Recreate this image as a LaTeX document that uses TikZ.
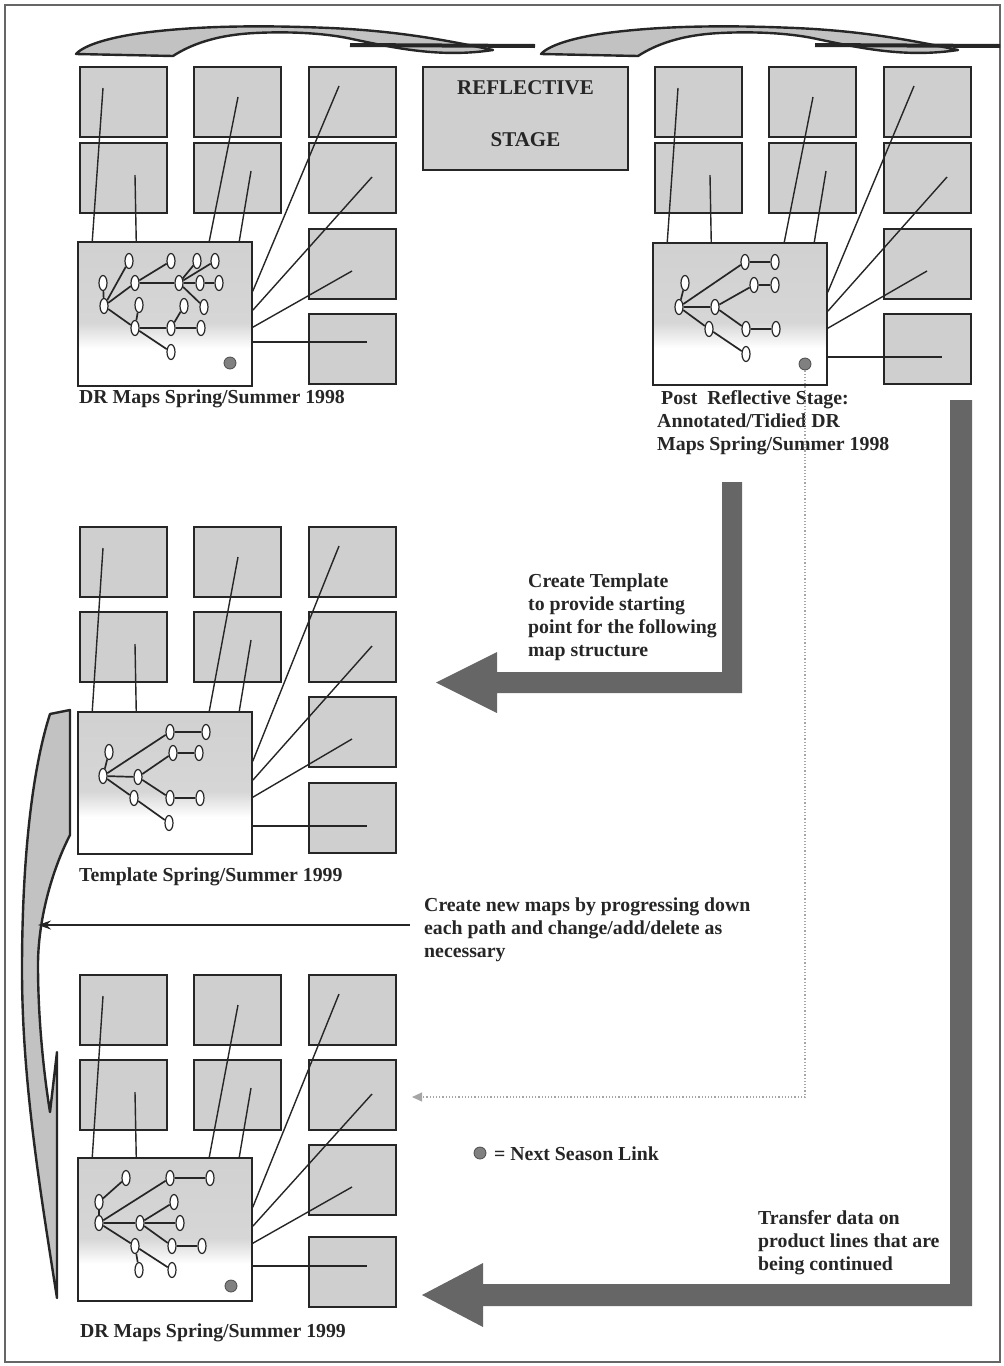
\documentclass[tikz,border=0pt]{standalone}
\usepackage{fontspec}
\setmainfont{Liberation Serif}
\usetikzlibrary{shapes.geometric,arrows.meta}

\pgfdeclareverticalshading{mapfade}{100bp}{color(0bp)=(white); color(38bp)=(white); color(47bp)=(gray!32); color(100bp)=(gray!40)}

\tikzset{
  mapcell/.style={draw=black!85, line width=1.5, fill=gray!38, minimum width=87, minimum height=70, inner sep=0},
  mapbig/.style={draw=black!85, line width=1.5, shade, shading=mapfade, minimum width=174, inner sep=0},
  maplink/.style={line width=1.4, black!85},
  oval/.style={ellipse, draw=black!85, line width=1.2, fill=white, minimum width=8, minimum height=15, inner sep=0},
  branch/.style={line width=1.7, black!85},
  seasondot/.style={circle, draw=black!70, line width=0.8, fill=black!50, minimum size=12, inner sep=0},
  lbl/.style={font=\bfseries\fontsize{19.8}{23}\selectfont, text=black!85, inner sep=0, align=left, anchor=west},
  blockarrow/.style={fill=black!60},
  curvearrow/.style={fill=gray!48, draw=black!85, line width=2.4, line join=round},
  nextlink/.style={gray!70, dotted, line width=1.2, -{Triangle[length=10,width=9]}},
}

% one group of season maps: name, left x, four row tops, map top, map height, y of lowest link
\newcommand{\drgroup}[9]{%
  \foreach \k/\ry in {1/#3,2/#4} {
    \node[mapcell] (#1a\k) at (#2+43.5,\ry+35) {};
    \node[mapcell] (#1b\k) at (#2+157.5,\ry+35) {};
  }
  \foreach \k/\ry in {1/#3,2/#4,3/#5,4/#6}
    \node[mapcell] (#1c\k) at (#2+272.5,\ry+35) {};
  \node[mapbig, minimum height=#8] (#1big) at (#2+85,#7+#8/2) {};
  % links from the boxes into the map
  \coordinate (#1p1) at (#2+23,#3+21);
  \coordinate (#1p2) at (#2+55,#4+32);
  \coordinate (#1p3) at (#2+158,#3+30);
  \coordinate (#1p4) at (#2+171,#4+28);
  \coordinate (#1p5) at (#2+259,#3+19);
  \coordinate (#1p6) at (#2+292,#4+34);
  \coordinate (#1p7) at (#2+272,#5+42);
  \coordinate (#1p8) at (#2+287,#9);
  \draw[maplink] (#1p1) -- ([xshift=15]#1big.north west);
  \draw[maplink] (#1p2) -- ([xshift=59]#1big.north west);
  \draw[maplink] (#1p3) -- ([xshift=132]#1big.north west);
  \draw[maplink] (#1p4) -- ([xshift=162]#1big.north west);
  \draw[maplink] (#1p5) -- ([yshift=-50]#1big.north east);
  \draw[maplink] (#1p6) -- ([yshift=-69]#1big.north east);
  \draw[maplink] (#1p7) -- ([yshift=-86]#1big.north east);
  \draw[maplink] (#1p8 -| #1big.east) -- (#1p8);
}

\begin{document}
\begin{tikzpicture}[x=1pt, y=-1pt]
  \useasboundingbox (0,0) rectangle (1004,1366);
  \draw[black!60, line width=1.2] (5,5) rectangle (1000,1362);

  % curved arrows along the top
  \foreach \dx in {0,465} {
    \begin{scope}[xshift=\dx]
      \draw[curvearrow] (76,54) -- (173,56) .. controls (190,45) and (215,35) .. (255,33)
        .. controls (295,31) and (330,34) .. (352,39) .. controls (395,48) and (440,58) .. (493,50)
        .. controls (450,41) and (400,31) .. (330,28) .. controls (260,25) and (200,26) .. (150,32)
        .. controls (115,36) and (85,44) .. (76,54) -- cycle;
      \draw[line width=4, black!85] (350,45) -- (535,46);
    \end{scope}
  }

  % curved arrow on the left
  \draw[curvearrow] (50,714) -- (70,710) -- (70,835) .. controls (52,870) and (38,920) .. (38,965)
    .. controls (38,1020) and (44,1075) .. (50,1112) -- (57,1052) -- (57,1298)
    .. controls (40,1190) and (22,1080) .. (22,970) .. controls (22,860) and (32,770) .. (50,714) -- cycle;

  % map groups
  \drgroup{g1}{80}{67}{143}{229}{314}{242}{144}{342}
  \drgroup{g2}{655}{67}{143}{229}{314}{243}{142}{357}
  \drgroup{g3}{80}{527}{612}{697}{783}{712}{142}{826}
  \drgroup{g4}{80}{975}{1060}{1145}{1237}{1158}{143}{1266}

  % trees
  \foreach \n/\x/\y in {a/103/283, r/104/306, b/129/261, c/135/283, d/171/261, e/179/283,
      f/197/261, g/215/261, h/200/283, i/219/283, j/204/307, k/139/305, l/135/328,
      m/184/306, n/171/328, o/201/328, p/171/352}
    \node[oval] (g1\n) at (\x,\y) {};
  \foreach \u/\v in {a/r, r/b, r/c, c/e, c/d, e/f, e/g, e/h, h/i, e/j, r/l, l/k, l/n, n/o, n/m, l/p}
    \draw[branch] (g1\u) -- (g1\v);

  \foreach \n/\x/\y in {a/685/283, r/679/307, b/745/262, bb/775/262, c/754/285, cc/775/285,
      d/715/307, e/709/329, f/746/329, ff/776/329, g/746/354}
    \node[oval] (g2\n) at (\x,\y) {};
  \foreach \u/\v in {a/r, r/b, b/bb, r/d, d/c, c/cc, d/f, f/ff, r/e, e/g}
    \draw[branch] (g2\u) -- (g2\v);

  \foreach \n/\x/\y in {a/109/752, r/103/776, b/170/732, bb/206/732, c/173/753, cc/199/753,
      d/138/777, e/134/798, f/170/798, ff/200/798, g/169/823}
    \node[oval] (g3\n) at (\x,\y) {};
  \foreach \u/\v in {a/r, r/b, b/bb, r/d, d/c, c/cc, d/f, f/ff, r/e, e/g}
    \draw[branch] (g3\u) -- (g3\v);

  \foreach \n/\x/\y in {a/126/1178, s/99/1202, r/99/1223, b/170/1178, bb/210/1178, c/174/1202,
      d/140/1223, dd/180/1223, f/172/1246, ff/202/1246, e/135/1246, h/139/1270, g/172/1270}
    \node[oval] (g4\n) at (\x,\y) {};
  \foreach \u/\v in {s/a, s/r, r/b, b/bb, r/d, d/dd, d/c, d/f, f/ff, r/e, e/g, e/h}
    \draw[branch] (g4\u) -- (g4\v);

  % next season links
  \node[seasondot] (g1dot) at (230,363) {};
  \node[seasondot] (g2dot) at (805,364) {};
  \node[seasondot] (g4dot) at (231,1286) {};

  % reflective stage
  \node[draw=black!85, line width=1.5, fill=gray!38, minimum width=205, minimum height=103,
        inner sep=0, text depth=9pt, align=center, text=black!85,
        font=\bfseries\fontsize{21}{23}\selectfont] (reflect) at (525.5,118.5) {REFLECTIVE\\[29pt]STAGE};

  % labels
  \node[lbl] (lab1) at (79,399) {DR Maps Spring/Summer 1998};
  \node[lbl] (lab2) at (657,423) {\hspace*{4pt}Post\ \ Reflective Stage:\\Annotated/Tidied DR\\Maps Spring/Summer 1998};
  \node[lbl] (lab3) at (79,877) {Template Spring/Summer 1999};
  \node[lbl] (lab4) at (80,1333) {DR Maps Spring/Summer 1999};
  \node[lbl] (templ) at (528,617) {Create Template\\to provide starting\\point for the following\\map structure};
  \node[lbl] (newtxt) at (424,930) {Create new maps by progressing down\\each path and change/add/delete as\\necessary};
  \node[lbl] (transfer) at (758,1243) {Transfer data on\\product lines that are\\being continued};
  \node[seasondot] (legdot) at (480,1153) {};
  \node[lbl] (legtxt) at (494,1154) {= Next Season Link};

  % block arrows
  \fill[blockarrow] (722,482) -- (742,482) -- (742,693) -- (497,693) -- (497,713) -- (436,682.5)
    -- (497,652) -- (497,672) -- (722,672) -- cycle;
  \fill[blockarrow] (950,400) -- (972,400) -- (972,1306) -- (483,1306) -- (483,1327) -- (422,1295)
    -- (483,1263) -- (483,1284) -- (950,1284) -- cycle;

  % thin and dotted arrows
  \coordinate (newtail) at (410,925);
  \coordinate (newtip) at (38,925);
  \draw[line width=1.1, black!85, -{Stealth[length=13,width=9]}] (newtail) -- (newtip);
  \coordinate (dotend) at (412,1097);
  \draw[nextlink] (g2dot.south) |- (dotend);
\end{tikzpicture}
\end{document}
